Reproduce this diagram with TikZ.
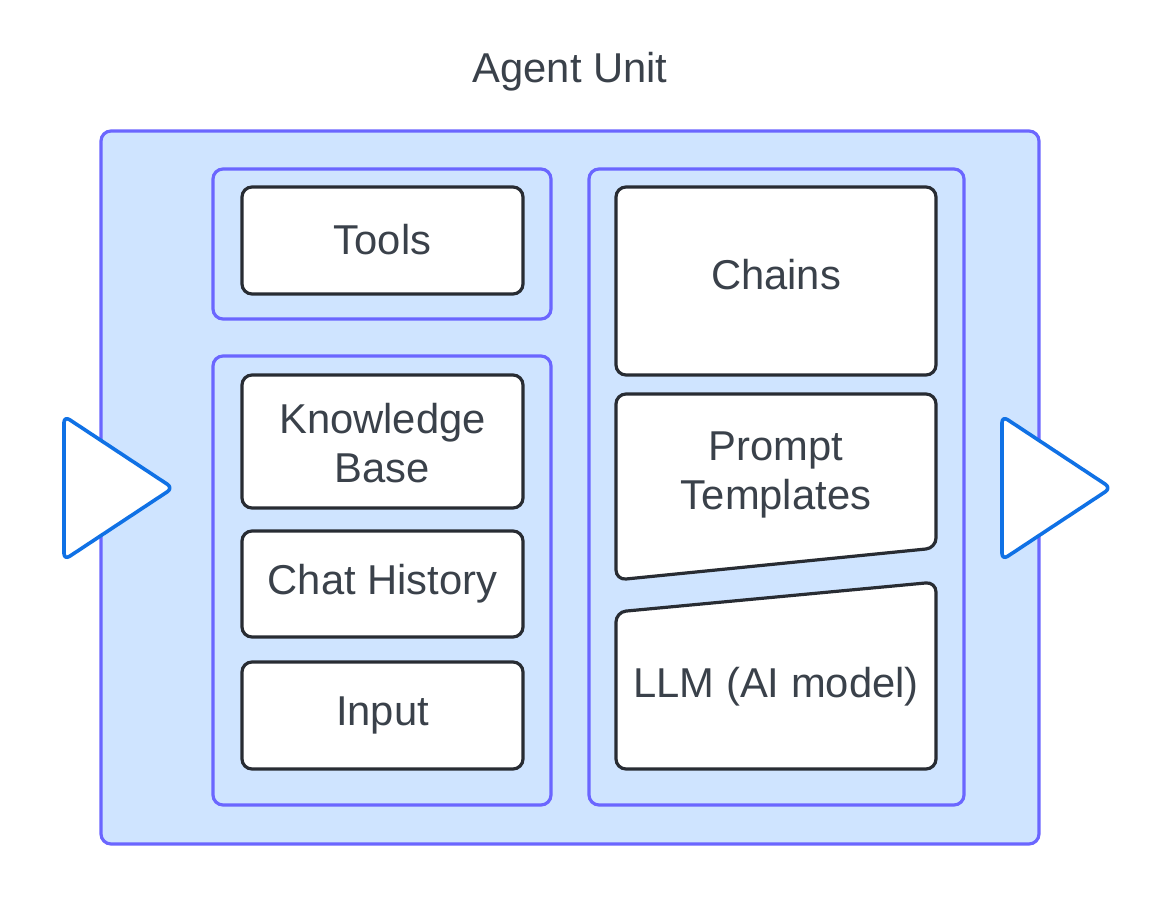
\documentclass[tikz,border=0pt]{standalone}
\usepackage{fontspec}
\setmainfont{Liberation Sans}
\definecolor{outerfill}{HTML}{CFE4FF}
\definecolor{grpline}{HTML}{6B66FF}
\definecolor{boxline}{HTML}{282C33}
\definecolor{triline}{HTML}{1071E5}
\definecolor{txt}{HTML}{3A414A}
\tikzset{
  grp/.style={draw=grpline, fill=outerfill, line width=2.4pt, rounded corners=7.5pt},
  boxshape/.style={draw=boxline, fill=white, line width=2.4pt, rounded corners=7.5pt},
  tri/.style={draw=triline, fill=white, line width=2.7pt, rounded corners=5pt, line join=round},
  lbl/.style={text=txt, font=\fontsize{31.3pt}{37pt}\selectfont, align=center, inner sep=0pt},
}
\begin{document}
\begin{tikzpicture}[x=0.75pt, y=-0.75pt]
\useasboundingbox (0,0) rectangle (1149,917);
% title
\node[lbl] (title) at (570,72) {Agent Unit};
% outer unit
\draw[grp] (101,131) rectangle (1039,844);
% groups
\draw[grp] (213,169) rectangle (551,319);
\draw[grp] (213,356) rectangle (551,805);
\draw[grp] (589,169) rectangle (964,805);
% left boxes
\draw[boxshape] (242,187) rectangle (523,294);
\node[lbl] (tools) at (382.5,240) {Tools};
\draw[boxshape] (242,375) rectangle (523,508);
\node[lbl] (kb) at (382.5,443) {Knowledge\\Base};
\draw[boxshape] (242,531) rectangle (523,637);
\node[lbl] (chat) at (382.5,584) {Chat History};
\draw[boxshape] (242,662) rectangle (523,769);
\node[lbl] (input) at (382.5,715) {Input};
% right boxes
\draw[boxshape] (616,187) rectangle (936,375);
\node[lbl] (chains) at (776,275) {Chains};
\draw[boxshape] (616,394) -- (936,394) -- (936,548) -- (616,580) -- cycle;
\node[lbl] (prompt) at (776,475) {Prompt\\Templates};
\draw[boxshape] (616,612) -- (936,582) -- (936,769) -- (616,769) -- cycle;
\node[lbl] (llm) at (776,687) {LLM (AI model)};
% triangles
\draw[tri] (64,416) -- (173,488) -- (64,560) -- cycle;
\draw[tri] (1002,416) -- (1111,488) -- (1002,560) -- cycle;
\end{tikzpicture}
\end{document}
